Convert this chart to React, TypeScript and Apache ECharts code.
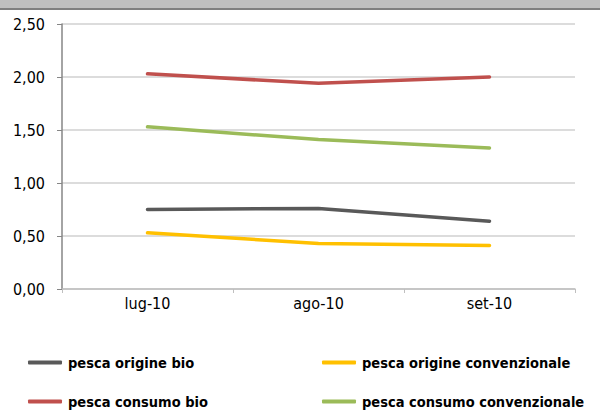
import React, { useEffect, useRef } from "react";
import * as echarts from "echarts";

const categories = ["lug-10", "ago-10", "set-10"];
const originBio = [0.75, 0.76, 0.64];
const originConv = [0.53, 0.43, 0.41];
const consumoBio = [2.03, 1.94, 2.0];
const consumoConv = [1.53, 1.41, 1.33];
const seriesNames = [
  "pesca origine bio",
  "pesca origine convenzionale",
  "pesca consumo bio",
  "pesca consumo convenzionale",
];
const colors = ["#595959", "#FFC000", "#C0504D", "#9BBB59"];

const FONT = "'DejaVu Sans Condensed', 'DejaVu Sans', sans-serif";

export default function App() {
  const ref = useRef<HTMLDivElement>(null);
  useEffect(() => {
    if (!ref.current) return;
    const chart = echarts.init(ref.current, undefined, { renderer: "svg" });
    const data = [originBio, originConv, consumoBio, consumoConv];
    const legendPos = [
      { left: 28, top: 355 },
      { left: 322, top: 355 },
      { left: 28, top: 394 },
      { left: 322, top: 394 },
    ];
    chart.setOption({
      animation: false,
      backgroundColor: "#ffffff",
      graphic: [
        { type: "rect", shape: { x: 0, y: 0, width: 600, height: 8 }, style: { fill: "#bfbfbf" } },
        { type: "rect", shape: { x: 0, y: 8, width: 600, height: 2 }, style: { fill: "#7f7f7f" } },
      ],
      grid: { left: 62, right: 25, top: 24, bottom: 121, containLabel: false },
      xAxis: {
        type: "category",
        data: categories,
        boundaryGap: true,
        axisLine: { show: true, lineStyle: { color: "#bfbfbf", width: 1.5 } },
        axisTick: { show: true, length: 4, lineStyle: { color: "#bfbfbf" } },
        axisLabel: { color: "#000", fontFamily: FONT, fontSize: 16, margin: 6 },
        splitLine: { show: false },
      },
      yAxis: {
        type: "value",
        min: 0,
        max: 2.5,
        interval: 0.5,
        axisLine: { show: true, lineStyle: { color: "#868686", width: 1.5 } },
        axisTick: { show: true, length: 5, lineStyle: { color: "#868686" } },
        axisLabel: {
          color: "#000",
          fontFamily: FONT,
          fontSize: 16,
          margin: 17,
          formatter: (v: number) => v.toFixed(2).replace(".", ","),
        },
        splitLine: { show: true, lineStyle: { color: "#d0d0d0", width: 1.5 } },
      },
      legend: seriesNames.map((n, i) => ({
        data: [n],
        left: legendPos[i].left,
        top: legendPos[i].top,
        icon: "roundRect",
        itemWidth: 34,
        itemHeight: 4,
        itemGap: 0,
        padding: 0,
        textStyle: { color: "#000", fontFamily: FONT, fontSize: 14.5, fontWeight: "bold", padding: [0, 0, 0, 1] },
      })),
      series: seriesNames.map((n, i) => ({
        name: n,
        type: "line",
        data: data[i],
        symbol: "none",
        color: colors[i],
        lineStyle: { color: colors[i], width: 3.5, cap: "round", join: "round" },
        itemStyle: { color: colors[i] },
      })),
    });
    return () => chart.dispose();
  }, []);
  return (
    <div
      ref={ref}
      style={{ position: "absolute", left: 0, top: 0, width: 600, height: 410 }}
    />
  );
}
